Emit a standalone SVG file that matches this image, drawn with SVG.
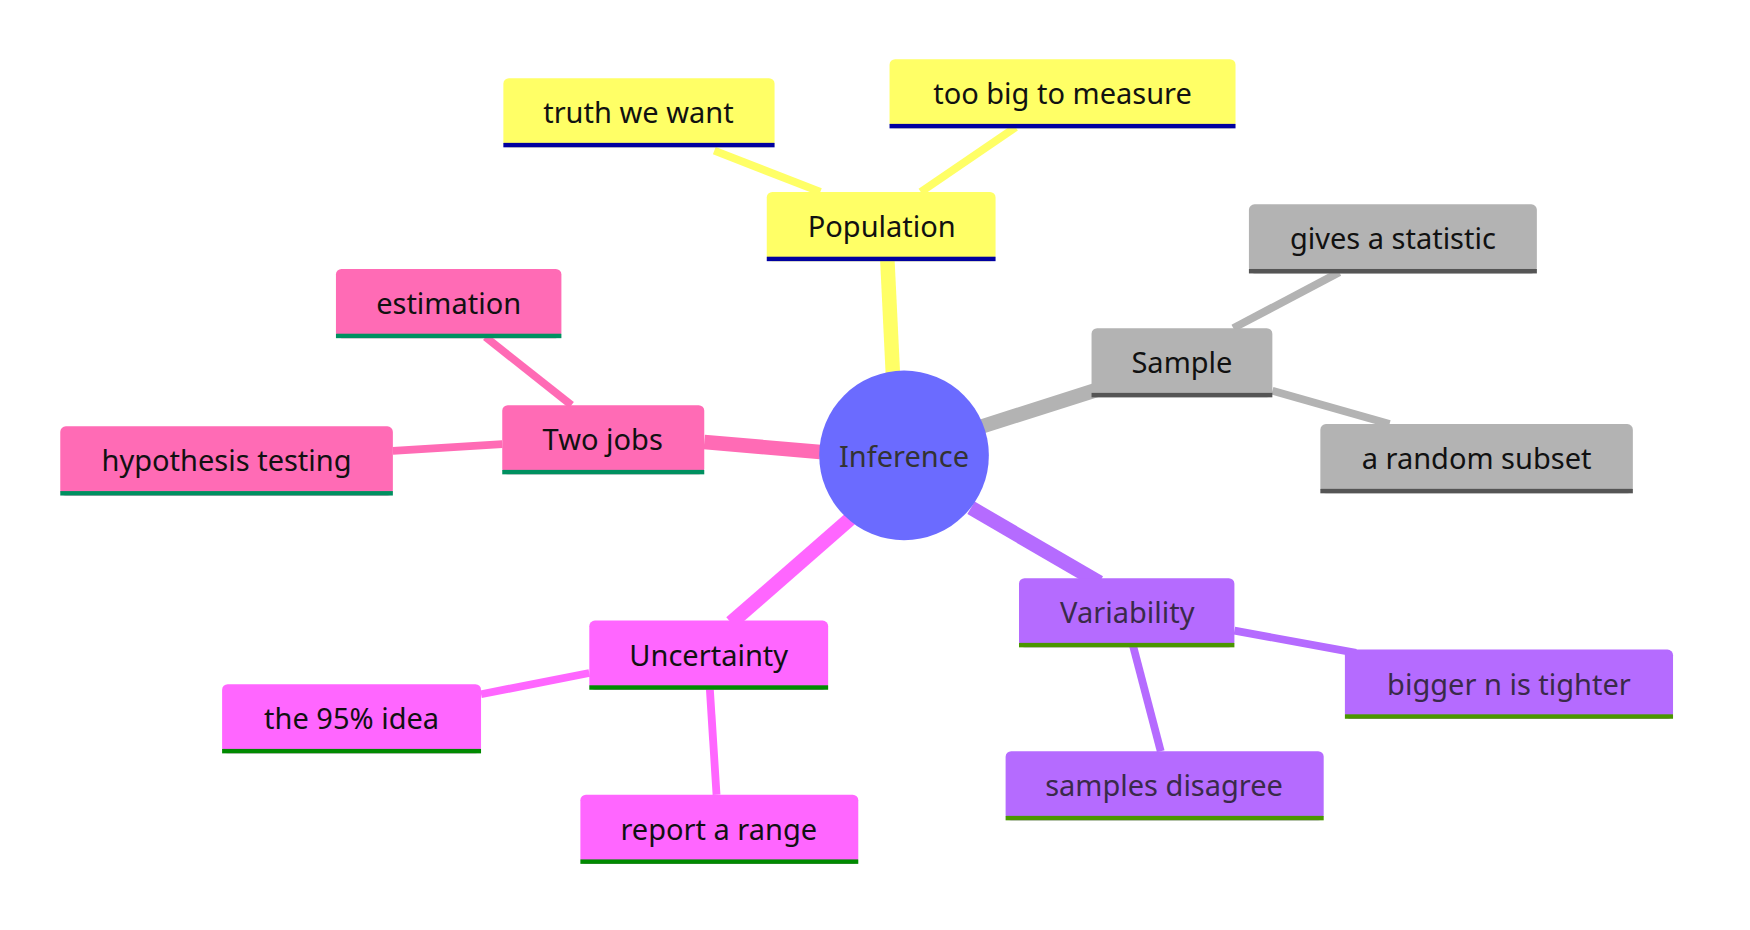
<svg xmlns="http://www.w3.org/2000/svg" width="1750" height="930" viewBox="0 0 1750 930">
<style>
text{font-family:"Noto Sans","Open Sans",sans-serif;font-size:26px;text-anchor:middle;dominant-baseline:central;fill:#111}
.y{fill:#ffff66}.g{fill:#b3b3b3}.p{fill:#b56bff}.m{fill:#ff66ff}.k{fill:#ff6bb5}
.dk{fill:#3a2a4a}
</style>
<rect width="1750" height="930" fill="#fff"/>
<g transform="scale(1.1161)">
<g id="connectors" stroke-linecap="butt" fill="none">
<path d="M800 335 L795 232" stroke="#ffff66" stroke-width="13"/>
<path d="M880 382 L990 347" stroke="#b3b3b3" stroke-width="13"/>
<path d="M870 455 L985 522" stroke="#b56bff" stroke-width="13"/>
<path d="M765 462 L655 558" stroke="#ff66ff" stroke-width="13"/>
<path d="M735 405 L631 396" stroke="#ff6bb5" stroke-width="13"/>
<path d="M735 172 L640 135" stroke="#ffff66" stroke-width="7"/>
<path d="M825 172 L910 114" stroke="#ffff66" stroke-width="7"/>
<path d="M1105 294 L1200 244" stroke="#b3b3b3" stroke-width="7"/>
<path d="M1140 350 L1245 380" stroke="#b3b3b3" stroke-width="7"/>
<path d="M1106 565 L1215 585" stroke="#b56bff" stroke-width="7"/>
<path d="M1015 578 L1040 673" stroke="#b56bff" stroke-width="7"/>
<path d="M528 603 L431 622" stroke="#ff66ff" stroke-width="7"/>
<path d="M636 617 L642 712" stroke="#ff66ff" stroke-width="7"/>
<path d="M512 363 L435 302" stroke="#ff6bb5" stroke-width="7"/>
<path d="M450 398 L352 404" stroke="#ff6bb5" stroke-width="7"/>
</g>
<g id="inference"><circle cx="810" cy="408" r="76" fill="#6b6bff"/><text x="810" y="408" style="fill:#333">Inference</text></g>
<g id="population"><rect class="y" x="687" y="172" width="205" height="62" rx="5"/><rect x="687" y="230" width="205" height="4" fill="#00009f"/><text x="790" y="202">Population</text></g>
<g id="truth"><rect class="y" x="451" y="70" width="243" height="62" rx="5"/><rect x="451" y="128" width="243" height="4" fill="#00009f"/><text x="572" y="100">truth we want</text></g>
<g id="toobig"><rect class="y" x="797" y="53" width="310" height="62" rx="5"/><rect x="797" y="111" width="310" height="4" fill="#00009f"/><text x="952" y="83">too big to measure</text></g>
<g id="sample"><rect class="g" x="978" y="294" width="162" height="62" rx="5"/><rect x="978" y="352" width="162" height="4" fill="#555"/><text x="1059" y="324">Sample</text></g>
<g id="gives"><rect class="g" x="1119" y="183" width="258" height="62" rx="5"/><rect x="1119" y="241" width="258" height="4" fill="#555"/><text x="1248" y="213">gives a statistic</text></g>
<g id="random"><rect class="g" x="1183" y="380" width="280" height="62" rx="5"/><rect x="1183" y="438" width="280" height="4" fill="#555"/><text x="1323" y="410">a random subset</text></g>
<g id="variability"><rect class="p" x="913" y="518" width="193" height="62" rx="5"/><rect x="913" y="576" width="193" height="4" fill="#4a9600"/><text class="dk" x="1010" y="548">Variability</text></g>
<g id="bigger"><rect class="p" x="1205" y="582" width="294" height="62" rx="5"/><rect x="1205" y="640" width="294" height="4" fill="#4a9600"/><text class="dk" x="1352" y="612">bigger n is tighter</text></g>
<g id="disagree"><rect class="p" x="901" y="673" width="285" height="62" rx="5"/><rect x="901" y="731" width="285" height="4" fill="#4a9600"/><text class="dk" x="1043" y="703">samples disagree</text></g>
<g id="uncertainty"><rect class="m" x="528" y="556" width="214" height="62" rx="5"/><rect x="528" y="614" width="214" height="4" fill="#008a00"/><text x="635" y="586">Uncertainty</text></g>
<g id="idea"><rect class="m" x="199" y="613" width="232" height="62" rx="5"/><rect x="199" y="671" width="232" height="4" fill="#008a00"/><text x="315" y="643">the 95% idea</text></g>
<g id="range"><rect class="m" x="520" y="712" width="249" height="62" rx="5"/><rect x="520" y="770" width="249" height="4" fill="#008a00"/><text x="644" y="742">report a range</text></g>
<g id="twojobs"><rect class="k" x="450" y="363" width="181" height="62" rx="5"/><rect x="450" y="421" width="181" height="4" fill="#009060"/><text x="540" y="393">Two jobs</text></g>
<g id="estimation"><rect class="k" x="301" y="241" width="202" height="62" rx="5"/><rect x="301" y="299" width="202" height="4" fill="#009060"/><text x="402" y="271">estimation</text></g>
<g id="hypothesis"><rect class="k" x="54" y="382" width="298" height="62" rx="5"/><rect x="54" y="440" width="298" height="4" fill="#009060"/><text x="203" y="412">hypothesis testing</text></g>
</g>
</svg>
